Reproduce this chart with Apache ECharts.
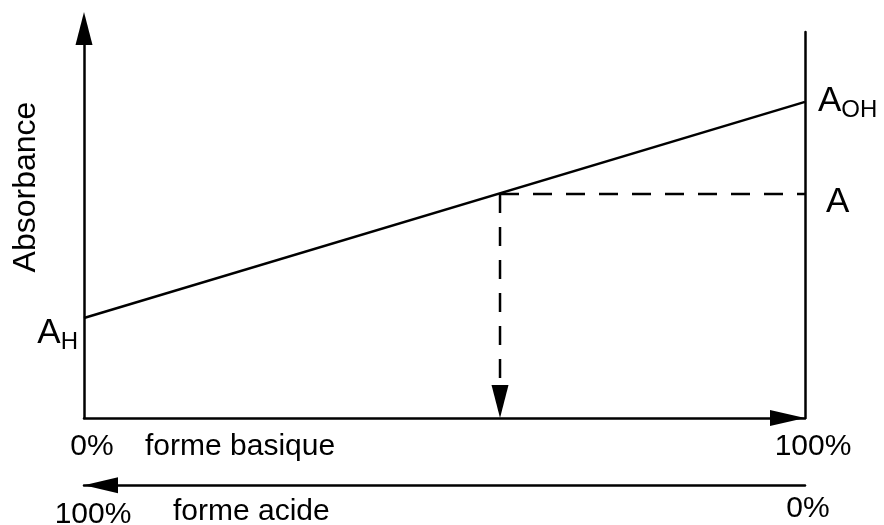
<!DOCTYPE html>
<html>
<head>
<meta charset="utf-8">
<script src="https://cdn.jsdelivr.net/npm/echarts@6/dist/echarts.min.js"></script>
<style>
html, body { margin: 0; padding: 0; background: #fff; }
#main { width: 884px; height: 525px; }
</style>
</head>
<body>
<div id="main"></div>
<script>
var xBasique = [0, 100];            // % forme basique aux extremites
var absorbance = [0.259, 0.819];    // A_H puis A_OH
var xMesure = 57.7;                 // % forme basique du point de mesure
var aMesure = 0.58;                 // absorbance mesuree A
var ticksBasique = [0, 100];
var ticksAcide = [100, 0];

var police = "'Liberation Sans', Arial, sans-serif";
var noir = '#000';
var ep = 2.5; // epaisseur des traits

var myChart = echarts.init(document.getElementById('main'));

// A cale en haut de la ligne, indice cale en bas => indice decale vers le bas
var texteA = {
  a: { fontSize: 35, lineHeight: 35, verticalAlign: 'top', color: noir, fontFamily: police },
  s: { fontSize: 24, lineHeight: 39, verticalAlign: 'bottom', color: noir, fontFamily: police }
};

var option = {
  animation: false,
  grid: [
    { left: 84, right: 79, top: 32, bottom: 107 },
    { left: 84, right: 79, top: 485, height: 1 }
  ],
  xAxis: [
    {
      type: 'value', gridIndex: 0, min: 0, max: 100,
      axisLine: { lineStyle: { color: noir, width: ep }, symbol: ['none', 'triangle'], symbolSize: [16, 35], symbolOffset: [0, -17.5] },
      axisTick: { show: false },
      splitLine: { show: false },
      axisLabel: {
        customValues: ticksBasique, margin: 14, color: noir, fontSize: 30, fontFamily: police,
        padding: [0, 0, 0, 16],
        formatter: function (v) { return v + '%'; }
      }
    },
    {
      type: 'value', gridIndex: 1, min: 0, max: 100, inverse: true,
      axisLine: { lineStyle: { color: noir, width: ep }, symbol: ['triangle', 'none'], symbolSize: [16, 34], symbolOffset: [17, 0] },
      axisTick: { show: false },
      splitLine: { show: false },
      axisLabel: {
        customValues: ticksAcide, margin: 8, color: noir, fontSize: 30, fontFamily: police,
        formatter: function (v) { return v === 100 ? '{l|100%}' : '{r|0%}'; },
        rich: {
          l: { fontSize: 30, padding: [6, 0, 0, 18], color: noir, fontFamily: police },
          r: { fontSize: 30, padding: [0, 0, 0, 6], color: noir, fontFamily: police }
        }
      }
    }
  ],
  yAxis: [
    {
      type: 'value', gridIndex: 0, min: 0, max: 1,
      name: 'Absorbance', nameLocation: 'middle', nameRotate: 90, nameGap: 42,
      nameTextStyle: { color: noir, fontSize: 32, fontFamily: police, padding: [0, 0, 0, 76] },
      axisLine: { show: true, lineStyle: { color: noir, width: ep }, symbol: ['none', 'triangle'], symbolSize: [17, 33], symbolOffset: [0, 3.5] },
      axisTick: { show: false },
      axisLabel: { show: false },
      splitLine: { show: false }
    },
    {
      type: 'value', gridIndex: 0, min: 0, max: 1, position: 'right',
      axisLine: { show: true, lineStyle: { color: noir, width: ep } },
      axisTick: { show: false },
      axisLabel: { show: false },
      splitLine: { show: false }
    },
    { type: 'value', gridIndex: 1, show: false, min: 0, max: 1 }
  ],
  series: [
    {
      // droite A = f(% forme basique)
      type: 'line', xAxisIndex: 0, yAxisIndex: 0,
      symbol: 'circle', symbolSize: 0,
      itemStyle: { color: noir },
      lineStyle: { color: noir, width: ep },
      data: [
        {
          value: [xBasique[0], absorbance[0]],
          label: { show: true, position: 'left', distance: 6, offset: [0, 17], formatter: '{a|A}{s|H}', rich: texteA }
        },
        {
          value: [xBasique[1], absorbance[1]],
          label: { show: true, position: 'right', distance: 13, offset: [0, 1], formatter: '{a|A}{s|OH}', rich: texteA }
        }
      ]
    },
    {
      // lecture horizontale de A
      type: 'line', xAxisIndex: 0, yAxisIndex: 0,
      symbol: 'circle', symbolSize: 0,
      itemStyle: { color: noir },
      lineStyle: { color: noir, width: ep, type: [19, 14] },
      data: [
        { value: [xMesure, aMesure] },
        {
          value: [100, aMesure],
          label: { show: true, position: 'right', distance: 21, offset: [0, 8], formatter: 'A', color: noir, fontSize: 35, fontFamily: police }
        }
      ]
    },
    {
      // report vertical vers l'axe des abscisses
      type: 'line', xAxisIndex: 0, yAxisIndex: 0,
      symbol: function (v, p) { return p.dataIndex === 1 ? 'triangle' : 'none'; },
      symbolSize: [17, 33],
      symbolRotate: 180,
      symbolOffset: [0, -16.5],
      itemStyle: { color: noir, borderWidth: 0 },
      lineStyle: { color: noir, width: ep, type: [19, 14] },
      data: [[xMesure, aMesure], [xMesure, 0]]
    }
  ],
  graphic: [
    {
      type: 'text', left: 145, top: 432,
      style: { text: 'forme basique', fontSize: 30, fontFamily: police, fill: noir }
    },
    {
      type: 'text', left: 173, top: 497,
      style: { text: 'forme acide', fontSize: 30, fontFamily: police, fill: noir }
    }
  ]
};

myChart.setOption(option);
</script>
</body>
</html>
